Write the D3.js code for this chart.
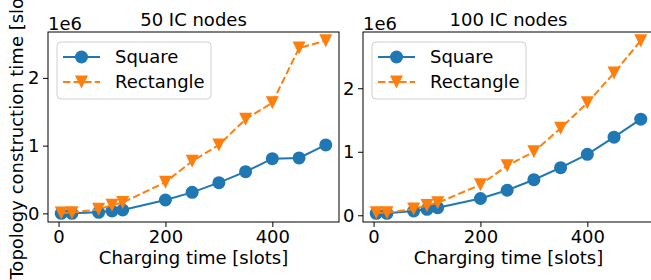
<!DOCTYPE html>
<html><head><meta charset="utf-8">
<script src="https://cdn.jsdelivr.net/npm/d3@7/dist/d3.min.js"></script>
<style>
body{margin:0;background:#fff;}
svg{display:block;font-family:"DejaVu Sans",sans-serif;}
</style></head>
<body>
<svg id="c" width="651" height="280"></svg>
<script>
// ---- data (y values in units of 1e6 slots) ----
const chargingTimes = [5, 25, 75, 100, 120, 200, 250, 300, 350, 400, 450, 500];
const titles = ["50 IC nodes", "100 IC nodes"];
const seriesNames = ["Square", "Rectangle"];
const square50    = [0.0, 0.0, 0.015, 0.035, 0.05, 0.197, 0.31, 0.453, 0.616, 0.808, 0.818, 1.01];
const rectangle50 = [0.005, 0.01, 0.06, 0.12, 0.16, 0.46, 0.77, 1.01, 1.39, 1.634, 2.44, 2.55];
const square100    = [0.03, 0.03, 0.067, 0.093, 0.119, 0.264, 0.394, 0.56, 0.75, 0.96, 1.23, 1.513];
const rectangle100 = [0.04, 0.04, 0.10, 0.155, 0.197, 0.48, 0.78, 1.0, 1.37, 1.77, 2.24, 2.75];
const xTicks = [0, 200, 400];
const yTicks = [0, 1, 2];
const xLabel = "Charging time [slots]";
const yLabel = "Topology construction time [slots]";
const offsetLabel = "1e6";

(function () {
const colors = ["#1f77b4", "#ff7f0e"];
const FS = 18;
const svg = d3.select("#c");

const panels = [
  {left: 48, title: titles[0], series: [square50, rectangle50]},
  {left: 363, title: titles[1], series: [square100, rectangle100]}
];
const W = 291, pTop = 32, pBottom = 222;

function marker(g, kind, x, y, r, color) {
  if (kind === 0) {
    g.append("circle").attr("cx", x).attr("cy", y).attr("r", r).attr("fill", color);
  } else {
    g.append("path").attr("d", `M${x},${y + r}L${x - r},${y - r}L${x + r},${y - r}Z`).attr("fill", color);
  }
}

panels.forEach(p => {
  const xmin = d3.min(chargingTimes), xmax = d3.max(chargingTimes);
  const xm = (xmax - xmin) * 0.05;
  const x = d3.scaleLinear().domain([xmin - xm, xmax + xm]).range([p.left, p.left + W]);
  const all = p.series.flat();
  const ymin = d3.min(all), ymax = d3.max(all);
  const ym = (ymax - ymin) * 0.05;
  const y = d3.scaleLinear().domain([ymin - ym, ymax + ym]).range([pBottom, pTop]);

  const g = svg.append("g");
  const cid = "clip" + p.left;
  svg.append("clipPath").attr("id", cid).append("rect")
    .attr("x", p.left).attr("y", pTop).attr("width", W).attr("height", pBottom - pTop);

  const plot = g.append("g").attr("clip-path", `url(#${cid})`);
  p.series.forEach((vals, si) => {
    const pts = chargingTimes.map((t, i) => [x(t), y(vals[i])]);
    const sg = plot.append("g");
    sg.append("path").attr("d", d3.line()(pts)).attr("fill", "none")
      .attr("stroke", colors[si]).attr("stroke-width", 2)
      .attr("stroke-dasharray", si === 1 ? "7.4,3.2" : null);
    pts.forEach(pt => marker(sg, si, pt[0], pt[1], 6.5, colors[si]));
  });

  const xa = g.append("g").attr("transform", `translate(0,${pBottom})`)
    .call(d3.axisBottom(x).tickValues(xTicks).tickSize(5).tickSizeOuter(0).tickPadding(3.5));
  const ya = g.append("g").attr("transform", `translate(${p.left},0)`)
    .call(d3.axisLeft(y).tickValues(yTicks).tickSize(5).tickSizeOuter(0).tickPadding(3.5).tickFormat(d3.format("d")));
  [xa, ya].forEach(a => {
    a.select(".domain").remove();
    a.selectAll("text").attr("font-size", FS).attr("font-family", "DejaVu Sans").attr("fill", "#000");
    a.selectAll("line").attr("stroke", "#000").attr("stroke-width", 1);
  });

  g.append("rect").attr("x", p.left).attr("y", pTop).attr("width", W).attr("height", pBottom - pTop)
    .attr("fill", "none").attr("stroke", "#000").attr("stroke-width", 1);

  g.append("text").attr("x", p.left + W / 2).attr("y", 26).attr("text-anchor", "middle")
    .attr("font-size", FS).text(p.title);
  g.append("text").attr("x", p.left).attr("y", 29.5).attr("font-size", FS).text(offsetLabel);
  g.append("text").attr("x", p.left + W / 2).attr("y", 264).attr("text-anchor", "middle")
    .attr("font-size", FS).text(xLabel);

  const lx = p.left + 9, ly = 42;
  const lg = g.append("g");
  lg.append("rect").attr("x", lx).attr("y", ly).attr("width", 154).attr("height", 57)
    .attr("rx", 4).attr("fill", "#fff").attr("fill-opacity", 0.8).attr("stroke", "#d0d0d0").attr("stroke-width", 1);
  seriesNames.forEach((nm, si) => {
    const yy = ly + 15 + si * 25;
    lg.append("line").attr("x1", lx + 6).attr("x2", lx + 43).attr("y1", yy).attr("y2", yy)
      .attr("stroke", colors[si]).attr("stroke-width", 2).attr("stroke-dasharray", si === 1 ? "7.4,3.2" : null);
    marker(lg, si, lx + 24.5, yy, 6.5, colors[si]);
    lg.append("text").attr("x", lx + 58).attr("y", yy).attr("dy", "0.35em").attr("font-size", FS).text(nm);
  });
});

svg.append("text").attr("transform", "translate(23,127) rotate(-90)").attr("text-anchor", "middle")
  .attr("font-size", FS).text(yLabel);
})();
</script>
</body></html>
